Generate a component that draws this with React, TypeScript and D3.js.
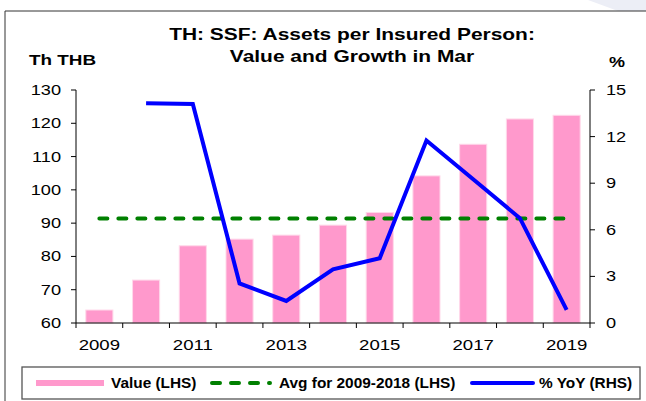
import React from "react";
import * as d3 from "d3";

const years = [2009, 2010, 2011, 2012, 2013, 2014, 2015, 2016, 2017, 2018, 2019];
const valueLHS = [63.9, 72.9, 83.2, 85.2, 86.4, 89.4, 93.2, 104.2, 113.7, 121.3, 122.4];
const yoyRHS: (number | null)[] = [null, 14.15, 14.1, 2.55, 1.42, 3.46, 4.17, 11.75, 9.25, 6.75, 0.84];
const avgValue = 91.4;
const leftTicks = [60, 70, 80, 90, 100, 110, 120, 130];
const rightTicks = [0, 3, 6, 9, 12, 15];
const xLabelYears = [2009, 2011, 2013, 2015, 2017, 2019];
const titleLines = ["TH: SSF: Assets per Insured Person:", "Value and Growth in Mar"];
const legendLabels = ["Value (LHS)", "Avg for 2009-2018 (LHS)", "% YoY (RHS)"];

const W = 646;
const H = 401;
const FONT = "'Liberation Sans', Arial, sans-serif";

function SText(props: {
  x: number; y: number; sx?: number; anchor?: string; size: number; bold?: boolean; children: React.ReactNode;
}) {
  const { x, y, sx = 1, anchor = "start", size, bold, children } = props;
  return (
    <text
      transform={`translate(${x},${y}) scale(${sx},1)`}
      textAnchor={anchor}
      fontSize={size}
      fontWeight={bold ? "bold" : "normal"}
      fontFamily={FONT}
      fill="#000"
    >
      {children}
    </text>
  );
}

export default function App() {
  const left = 76, right = 590, top = 90, bottom = 323;
  const x = d3.scaleBand<number>().domain(years).range([left, right]).paddingInner(0.42).paddingOuter(0.21);
  const yL = d3.scaleLinear().domain([60, 130]).range([bottom, top]);
  const yR = d3.scaleLinear().domain([0, 15]).range([bottom, top]);
  const step = x.step();
  const cx = (yr: number) => (x(yr) as number) + x.bandwidth() / 2;

  const line = d3
    .line<{ yr: number; v: number | null }>()
    .defined((d) => d.v !== null)
    .x((d) => cx(d.yr))
    .y((d) => yR(d.v as number));
  const lineData = years.map((yr, i) => ({ yr, v: yoyRHS[i] }));

  const xTickPos = years.map((yr) => cx(yr) - step / 2).concat([right]);

  const legY = 383;

  return (
    <svg width={W} height={H} style={{ position: "absolute", left: 0, top: 0, background: "#fff" }}>
      <rect x={0} y={0} width={W} height={H} fill="#fff" />
      <polygon points="588,0 646,0 646,11 618,11" fill="#eceef6" />
      {/* frame */}
      <line x1={5} y1={11} x2={W} y2={11} stroke="#333" strokeWidth={1} />
      <line x1={5} y1={11} x2={5} y2={H} stroke="#333" strokeWidth={1} />

      {/* title */}
      <SText x={352} y={40} sx={1.27} anchor="middle" size={16.5} bold>{titleLines[0]}</SText>
      <SText x={352} y={62} sx={1.27} anchor="middle" size={16.5} bold>{titleLines[1]}</SText>
      <SText x={29} y={65} sx={1.26} size={15} bold>Th THB</SText>
      <SText x={609} y={67} sx={1.2} size={15} bold>%</SText>

      {/* bars */}
      {years.map((yr, i) => (
        <rect
          key={yr}
          x={x(yr)}
          y={yL(valueLHS[i])}
          width={x.bandwidth()}
          height={bottom - yL(valueLHS[i])}
          fill="#ff99cc"
          stroke="#ffd9ea"
          strokeWidth={1}
        />
      ))}

      {/* average line */}
      <line
        x1={cx(years[0])}
        x2={cx(years[years.length - 1])}
        y1={yL(avgValue)}
        y2={yL(avgValue)}
        stroke="#008000"
        strokeWidth={4}
        strokeDasharray="8,11"
        strokeLinecap="round"
      />

      {/* yoy line */}
      <path d={line(lineData) || ""} fill="none" stroke="#0000ff" strokeWidth={4} strokeLinejoin="miter" />

      {/* axes */}
      <line x1={left} x2={left} y1={top} y2={bottom} stroke="#000" strokeWidth={1} />
      <line x1={right} x2={right} y1={top} y2={bottom} stroke="#000" strokeWidth={1} />
      <line x1={left} x2={right} y1={bottom} y2={bottom} stroke="#000" strokeWidth={1} />
      {leftTicks.map((t) => (
        <g key={"l" + t}>
          <line x1={left - 5} x2={left} y1={yL(t)} y2={yL(t)} stroke="#000" />
          <SText x={61} y={yL(t) + 5} sx={1.3} anchor="end" size={14}>{t}</SText>
        </g>
      ))}
      {rightTicks.map((t) => (
        <g key={"r" + t}>
          <line x1={right} x2={right + 5} y1={yR(t)} y2={yR(t)} stroke="#000" />
          <SText x={606} y={yR(t) + 5} sx={1.3} size={14}>{t}</SText>
        </g>
      ))}
      {xTickPos.map((p, i) => (
        <line key={"xt" + i} x1={p} x2={p} y1={bottom} y2={bottom + 5} stroke="#000" />
      ))}
      {xLabelYears.map((yr) => (
        <SText key={"xl" + yr} x={cx(yr)} y={350} sx={1.33} anchor="middle" size={14}>{yr}</SText>
      ))}

      {/* legend */}
      <rect x={22} y={367} width={618} height={32} fill="#fff" stroke="#555" strokeWidth={1.3} />
      <rect x={36} y={380} width={68} height={6} fill="#ff99cc" />
      <SText x={111} y={388} sx={1.1} size={14} bold>{legendLabels[0]}</SText>
      <line x1={212} x2={270} y1={legY} y2={legY} stroke="#008000" strokeWidth={4} strokeDasharray="8,11" strokeLinecap="round" />
      <SText x={279} y={388} sx={1.1} size={14} bold>{legendLabels[1]}</SText>
      <line x1={472} x2={533} y1={legY} y2={legY} stroke="#0000ff" strokeWidth={4} strokeLinecap="round" />
      <SText x={539} y={388} sx={1.1} size={14} bold>{legendLabels[2]}</SText>
    </svg>
  );
}
